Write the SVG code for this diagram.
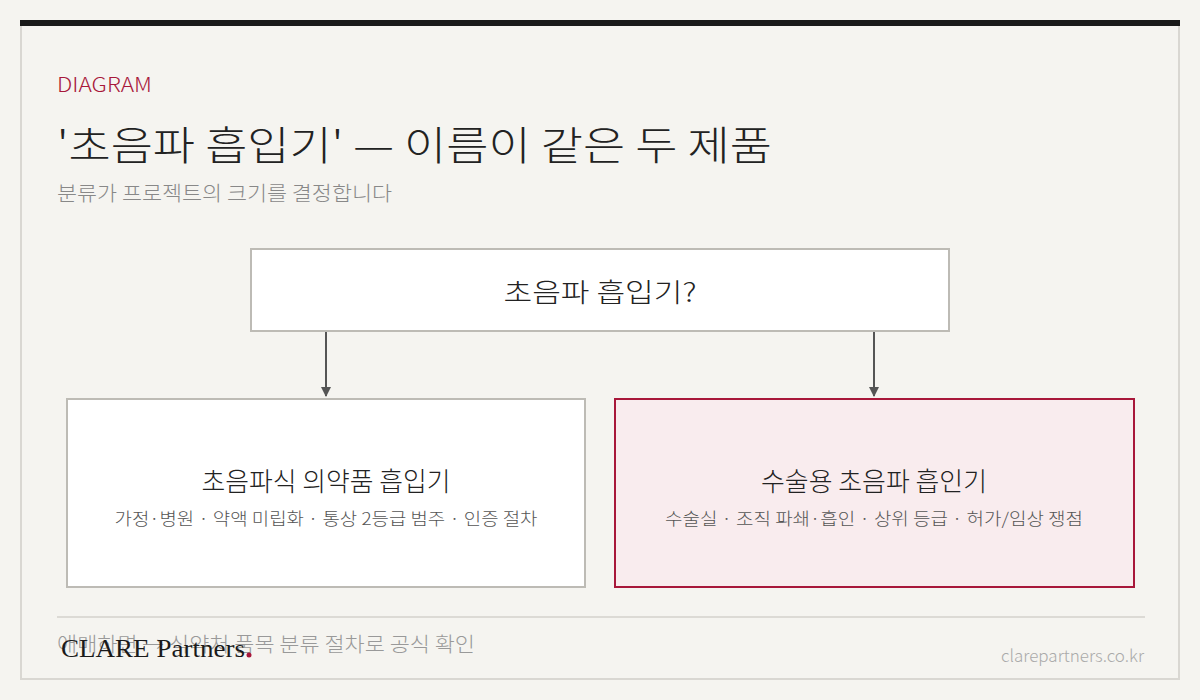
<svg xmlns="http://www.w3.org/2000/svg" width="1200" height="700" viewBox="0 0 1200 700">
<style>
text{font-family:"Noto Sans CJK KR","Noto Sans",sans-serif;font-weight:300}
.box{fill:#fff;stroke:#bdbbb5;stroke-width:2}
.t{font-size:26px;fill:#222;text-anchor:middle}
.s{font-size:17px;fill:#555;text-anchor:middle}
.c{stroke:#555;stroke-width:2;fill:none}
</style>
<defs><marker id="a" markerWidth="10" markerHeight="10" refX="9" refY="5" orient="auto" markerUnits="userSpaceOnUse" viewBox="0 0 10 10"><path d="M0,0L10,5L0,10z" fill="#555"/></marker></defs>
<rect width="1200" height="700" fill="#f5f4f0"/>
<rect x="21" y="22" width="1158" height="657" fill="none" stroke="#d9d7d2" stroke-width="2"/>
<rect x="20" y="20" width="1160" height="6" fill="#1a1a1a"/>
<text x="57" y="92" font-size="20" fill="#a8173a" textLength="95" lengthAdjust="spacingAndGlyphs">DIAGRAM</text>
<text x="57" y="160" font-size="40" fill="#222" textLength="715" lengthAdjust="spacingAndGlyphs">'초음파 흡입기' — 이름이 같은 두 제품</text>
<text x="57" y="201" font-size="20" fill="#888" textLength="335" lengthAdjust="spacingAndGlyphs">분류가 프로젝트의 크기를 결정합니다</text>
<g id="top"><rect class="box" x="251" y="249" width="698" height="82"/><text class="t" x="600" y="302" font-size="30" textLength="193" lengthAdjust="spacingAndGlyphs">초음파 흡입기?</text></g>
<g id="left"><rect class="box" x="67" y="399" width="518" height="188"/><text class="t" x="326" y="491" textLength="249" lengthAdjust="spacingAndGlyphs">초음파식 의약품 흡입기</text><text class="s" x="326" y="525" textLength="423" lengthAdjust="spacingAndGlyphs">가정·병원 · 약액 미립화 · 통상 2등급 범주 · 인증 절차</text></g>
<g id="right"><rect x="615" y="399" width="519" height="188" fill="#f9ecee" stroke="#a8173a" stroke-width="2"/><text class="t" x="874" y="491" textLength="226" lengthAdjust="spacingAndGlyphs">수술용 초음파 흡인기</text><text class="s" x="874" y="525" textLength="418" lengthAdjust="spacingAndGlyphs">수술실 · 조직 파쇄·흡인 · 상위 등급 · 허가/임상 쟁점</text></g>
<g id="connectors"><path class="c" d="M326,332V396" marker-end="url(#a)"/><path class="c" d="M874,332V396" marker-end="url(#a)"/></g>
<line x1="57" y1="617" x2="1145" y2="617" stroke="#dcdad5" stroke-width="2"/>
<text x="57" y="652" font-size="20" fill="#999" textLength="418" lengthAdjust="spacingAndGlyphs">애매하면 → 식약처 품목 분류 절차로 공식 확인</text>
<text x="61" y="657" font-size="26" fill="#1a1a1a" textLength="184" lengthAdjust="spacingAndGlyphs" style="font-family:'Liberation Serif',serif;font-weight:400">CLARE Partners</text>
<circle cx="249" cy="655" r="2.5" fill="#a8173a"/>
<text x="1144" y="662" font-size="17" fill="#aaa" text-anchor="end">clarepartners.co.kr</text>
</svg>
